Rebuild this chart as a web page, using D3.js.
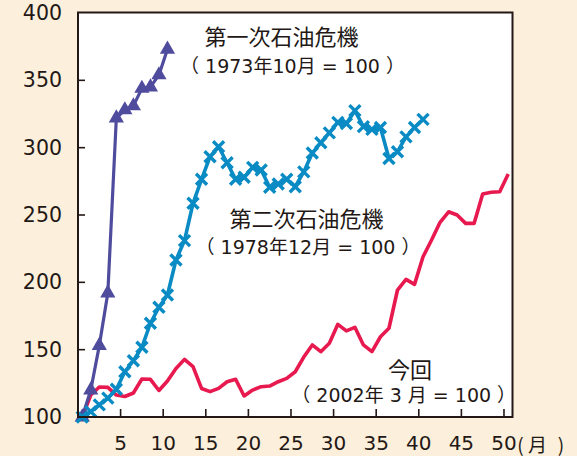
<!DOCTYPE html>
<html><head><meta charset="utf-8">
<script src="https://cdn.jsdelivr.net/npm/d3@7"></script>
<style>html,body{margin:0;padding:0;background:#fcefdb;} svg{display:block}</style>
</head><body><svg id="c" width="577" height="456"></svg>
<script>
// index values by month (plotted at mid-month)
const firstCrisis = [100,120,153,192,322,328,331,344,345,354,373];
const secondCrisis = [100,104,109,114,120.6,133.6,141.8,151.8,169.6,181.5,190.6,216.6,231,258.7,276.5,293.3,300.7,288.8,276.5,278,285.4,283.4,270.6,273,276.5,271,282,296,303.7,311,318.8,318,327.5,315.6,313.6,315,292,297,308,315,321];
const current = [100,116.3,122.3,122,116.3,115.2,117.8,128.2,128,119.7,126.7,136,142.8,137.4,121.2,118.8,121.3,126.2,128,115.6,120,122.5,123,126.2,128.7,133.6,144.5,153.5,148.5,154.7,168.8,164,166.6,153.5,148.5,159.6,165.9,194.3,202.2,198.5,219,231.4,244.6,252.4,250,243.8,243.8,265.6,266.9,267.3,280.4];
const xTicks = [5,10,15,20,25,30,35,40,45,50];
const yTicks = [100,150,200,250,300,350,400];
const labels = [
  {lines:["第一次石油危機","（ 1973年10月 = 100 ）"]},
  {lines:["第二次石油危機","（ 1978年12月 = 100 ）"]},
  {lines:["今回","（ 2002年 3 月 = 100 ）"]}
];
const unitLabel = ["(","月",")"];

const svg = d3.select("#c");
const W=577,H=456;
const L=78,R=512.5,T=12.5,B=417;
const x = d3.scaleLinear().domain([0,51]).range([L,R]);
const y = d3.scaleLinear().domain([100,400]).range([B,13]);
const ink="#231815";
const numFont='"DejaVu Sans","Noto Sans CJK JP",sans-serif';
const jpFont='"Noto Sans CJK JP","DejaVu Sans",sans-serif';

svg.append("rect").attr("width",W).attr("height",H).attr("fill","#fcefdb");
svg.append("rect").attr("x",L).attr("y",T).attr("width",R-L).attr("height",B-T).attr("fill","#fff");

const line = d3.line().x((d,i)=>x(i+0.5)).y(d=>y(d));

// current (red)
svg.append("path").datum(current).attr("d",line).attr("fill","none")
  .attr("stroke","#e8194f").attr("stroke-width",3.6).attr("stroke-linejoin","round");

// first crisis (purple, triangles)
svg.append("path").datum(firstCrisis).attr("d",line).attr("fill","none")
  .attr("stroke","#4f4b9d").attr("stroke-width",3.2).attr("stroke-linejoin","round");
svg.append("g").selectAll("path").data(firstCrisis).join("path")
  .attr("d",d3.symbol(d3.symbolTriangle,100))
  .attr("transform",(d,i)=>`translate(${x(i+0.5)},${y(d)})`)
  .attr("fill","#4f4b9d");

// second crisis (blue, x markers)
svg.append("path").datum(secondCrisis).attr("d",line).attr("fill","none")
  .attr("stroke","#0a8bc4").attr("stroke-width",3.6).attr("stroke-linejoin","round");
svg.append("g").selectAll("path").data(secondCrisis).join("path")
  .attr("d","M-5.5,-5.5L5.5,5.5M-5.5,5.5L5.5,-5.5")
  .attr("transform",(d,i)=>`translate(${x(i+0.5)},${y(d)})`)
  .attr("stroke","#0a8bc4").attr("stroke-width",3.4).attr("fill","none");

// frame
svg.append("rect").attr("x",L).attr("y",T).attr("width",R-L).attr("height",B-T)
  .attr("fill","none").attr("stroke",ink).attr("stroke-width",2);

// ticks
svg.append("g").selectAll("line").data(yTicks.filter(v=>v>100&&v<400)).join("line")
  .attr("x1",L).attr("x2",L+7).attr("y1",d=>y(d)).attr("y2",d=>y(d))
  .attr("stroke",ink).attr("stroke-width",1.6);
svg.append("g").selectAll("line").data(xTicks).join("line")
  .attr("x1",d=>x(d)).attr("x2",d=>x(d)).attr("y1",B).attr("y2",B-8)
  .attr("stroke",ink).attr("stroke-width",1.6);

// tick labels
svg.append("g").selectAll("text").data(yTicks).join("text")
  .attr("x",62).attr("y",d=>y(d)).attr("text-anchor","end").attr("dominant-baseline","central")
  .attr("font-family",numFont).attr("font-size",20.5).attr("fill",ink).text(d=>d);
svg.append("g").selectAll("text").data(xTicks).join("text")
  .attr("x",d=>x(d)).attr("y",443).attr("text-anchor","middle").attr("dominant-baseline","central")
  .attr("font-family",numFont).attr("font-size",20).attr("fill",ink).text(d=>d);

// unit label
const unitX=[520.5,537.5,561];
svg.append("g").selectAll("text").data(unitLabel).join("text")
  .attr("x",(d,i)=>unitX[i]).attr("y",443).attr("text-anchor","middle").attr("dominant-baseline","central")
  .attr("font-family",jpFont).attr("font-size",19).attr("fill",ink).text(d=>d);

// annotations
const annPos=[
  [[281.5,35],[292.5,66]],
  [[306.5,217],[308,246.5]],
  [[410,368],[403.7,394.5]]
];
labels.forEach((lab,k)=>{
  lab.lines.forEach((t,j)=>{
    svg.append("text").attr("x",annPos[k][j][0]).attr("y",annPos[k][j][1])
      .attr("text-anchor","middle").attr("dominant-baseline","central")
      .attr("font-family",j===0?jpFont:numFont).attr("font-size",j===0?22:19)
      .attr("fill",ink).text(t);
  });
});
</script></body></html>
